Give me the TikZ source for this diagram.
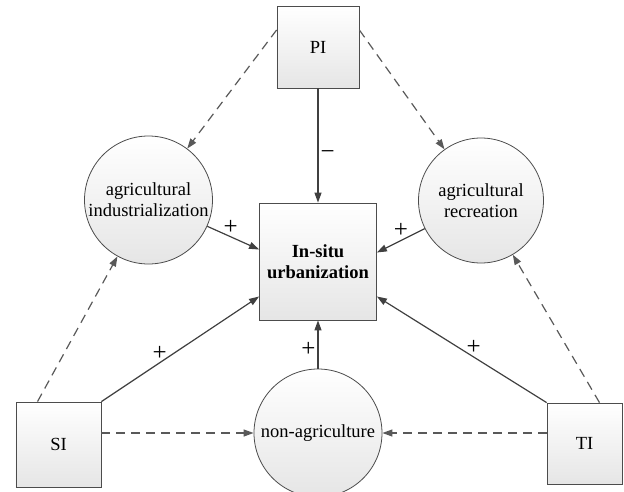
\documentclass[tikz,border=0pt]{standalone}
\usepackage{fontspec}
\setmainfont{Liberation Serif}
\usetikzlibrary{positioning,arrows.meta}
\newcommand{\figfont}{\fontsize{18.5pt}{21pt}\selectfont}
\newcommand{\signfont}{\fontsize{25pt}{25pt}\selectfont}
\tikzstyle{fac}=[draw=black!70, top color=white, bottom color=black!10, minimum width=85pt, minimum height=85pt, inner sep=0pt, line width=0.8pt, font=\figfont]
\tikzstyle{mid}=[fac, minimum width=117pt, minimum height=117pt, align=center, font=\figfont\bfseries]
\tikzstyle{chan}=[circle, draw=black!70, top color=white, bottom color=black!10, minimum size=128pt, inner sep=0pt, line width=0.8pt, align=center, font=\figfont]
\tikzstyle{eff}=[->, line width=1.2pt, draw=black!75]
\tikzstyle{ind}=[->, line width=1.2pt, draw=black!65, dash pattern=on 9pt off 6pt]
\tikzstyle{sign}=[inner sep=2pt, font=\signfont]

\begin{document}
\begin{tikzpicture}[x=1pt,y=1pt,>={Triangle[length=10pt,width=7pt]}]
\useasboundingbox (-318,-229.5) rectangle (306,261.5);

\node[mid] at (0,0) (urb) {In-situ\\urbanization};
\node[fac, above of = urb, node distance = 214.5pt, minimum width=82pt, minimum height=82pt] (PI) {PI};
\draw[eff] (PI) -- node[sign, right, pos=0.58] (mPI) {−} (urb);

\node[chan] at (-169.5,61.5) (ai) {agricultural\\industrialization};
\node[chan, minimum size=125pt] at (163,61) (ar) {agricultural\\recreation};
\node[chan, below of = urb, node distance = 171.5pt] (nonag) {non-agriculture};

\node[fac] at (-259.5,-183) (SI) {SI};
\node[fac, minimum width=75pt, minimum height=81pt] at (266.5,-182) (TI) {TI};

% pathways into in-situ urbanization
\draw[eff] (ai) -- node[sign, above, pos=0.45] (pAI) {+} ([yshift=12pt]urb.west);
\draw[eff] (ar) -- node[sign, above, pos=0.5] (pAR) {+} ([yshift=9pt]urb.east);
\draw[eff] (SI.north east) -- node[sign, above, pos=0.37] (pSI) {+} ([yshift=-35pt]urb.west);
\draw[eff] (TI.north west) -- node[sign, above, pos=0.43] (pTI) {+} ([yshift=-35pt]urb.east);
\draw[eff] (nonag) -- node[sign, left, pos=0.39] (pNA) {+} (urb);

% indirect effects
\draw[ind] ([yshift=17pt]PI.west) -- (ai);
\draw[ind] ([yshift=17pt]PI.east) -- (ar);
\draw[ind] ([xshift=-21pt]SI.north) -- (ai);
\draw[ind] ([xshift=15pt]TI.north) -- (ar);
\draw[ind] (SI.east |- nonag) -- (nonag);
\draw[ind] (TI.west |- nonag) -- (nonag);
\end{tikzpicture}
\end{document}
